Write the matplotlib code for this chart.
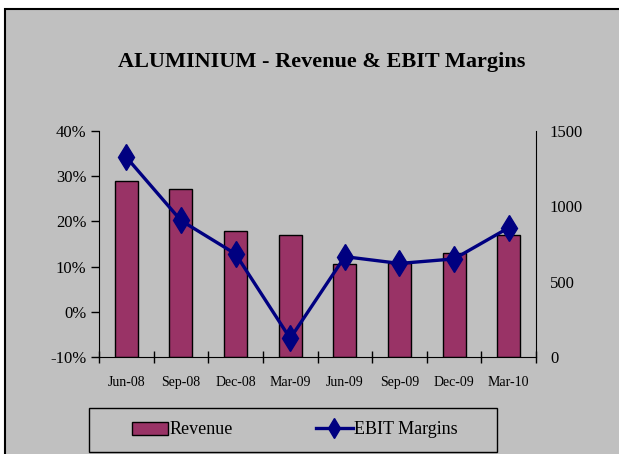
"""
ALUMINIUM - Revenue & EBIT Margins (quarterly)
"""

import matplotlib
matplotlib.use("Agg")
import matplotlib.pyplot as plt
from matplotlib.patches import Rectangle
from matplotlib.ticker import FuncFormatter, FixedLocator
import numpy as np

quarters = ['Jun-08', 'Sep-08', 'Dec-08', 'Mar-09', 'Jun-09', 'Sep-09', 'Dec-09', 'Mar-10']
revenue = [1168, 1117, 836, 812, 617, 625, 688, 812]
ebit_margin = [34.2, 20.2, 12.8, -5.9, 12.2, 10.7, 11.7, 18.6]

plt.rcParams['font.family'] = ['Liberation Serif', 'DejaVu Serif']
plt.rcParams['axes.unicode_minus'] = False

W, H = 619, 454
fig = plt.figure(figsize=(W / 100, H / 100), dpi=100)
fig.patch.set_facecolor('white')

# Grey chart area with border (top/left visible, rest runs off the image)
fig.patches.append(Rectangle((5 / W, -0.05), 1.2, 1.05 - 9 / H,
                             transform=fig.transFigure, facecolor='#C0C0C0',
                             edgecolor='black', linewidth=1.5, zorder=-10))

x = np.arange(len(quarters))

ax = fig.add_axes([99 / W, 1 - 357 / H, (536 - 99) / W, (357 - 131) / H])
ax2 = ax.twinx()

# Revenue bars on the right axis
ax2.bar(x, revenue, width=0.42, color='#993366', edgecolor='black', linewidth=1.0,
        label='Revenue')
ax2.set_ylim(0, 1500)
ax2.set_yticks([0, 500, 1000, 1500])
ax2.tick_params(axis='y', length=0, pad=10, labelsize=12)

# EBIT margins line on the left axis, drawn above the bars
ax.plot(x, ebit_margin, color='#000080', linewidth=2.4, marker='d', markersize=13,
        label='EBIT Margins')
ax.set_zorder(ax2.get_zorder() + 1)
ax.patch.set_visible(False)
ax.set_ylim(-10, 40)
ax.set_yticks([-10, 0, 10, 20, 30, 40])
ax.yaxis.set_major_formatter(FuncFormatter(lambda v, p: f'{v:.0f}%'))
ax.tick_params(axis='y', length=6, width=1, pad=3, labelsize=12)

ax.set_xlim(-0.5, len(quarters) - 0.5)
ax.xaxis.set_major_locator(FixedLocator(np.arange(-0.5, len(quarters), 1.0)))
ax.xaxis.set_minor_locator(FixedLocator(x))
ax.set_xticklabels([], minor=False)
ax.set_xticklabels(quarters, minor=True)
ax.tick_params(axis='x', which='major', direction='inout', length=9, width=1)
ax.tick_params(axis='x', which='minor', length=0, pad=14, labelsize=10)

for a in (ax, ax2):
    a.spines['top'].set_visible(False)
    for s in ('left', 'right', 'bottom'):
        a.spines[s].set_color('black')
ax.spines['right'].set_visible(False)
ax2.spines['left'].set_visible(False)
ax2.spines['bottom'].set_visible(False)

fig.text(322 / W, 1 - 62 / H, 'ALUMINIUM - Revenue & EBIT Margins',
         ha='center', va='center', fontsize=16, fontweight='bold')

# Legend box
fig.patches.append(Rectangle((89 / W, 1 - 452 / H), (497 - 89) / W, 44 / H,
                             transform=fig.transFigure, facecolor='#C0C0C0',
                             edgecolor='black', linewidth=1.0, zorder=5))
h1, l1 = ax2.get_legend_handles_labels()
h2, l2 = ax.get_legend_handles_labels()
leg = fig.legend(h1 + h2, l1 + l2, loc='center', ncol=2,
                 bbox_to_anchor=(295 / W, 1 - 430 / H), frameon=False,
                 fontsize=13, handlelength=2.0, handletextpad=0.1,
                 columnspacing=4.6, markerscale=0.8)
leg.set_zorder(6)

fig.savefig('out.png', dpi=100, facecolor=fig.get_facecolor())
